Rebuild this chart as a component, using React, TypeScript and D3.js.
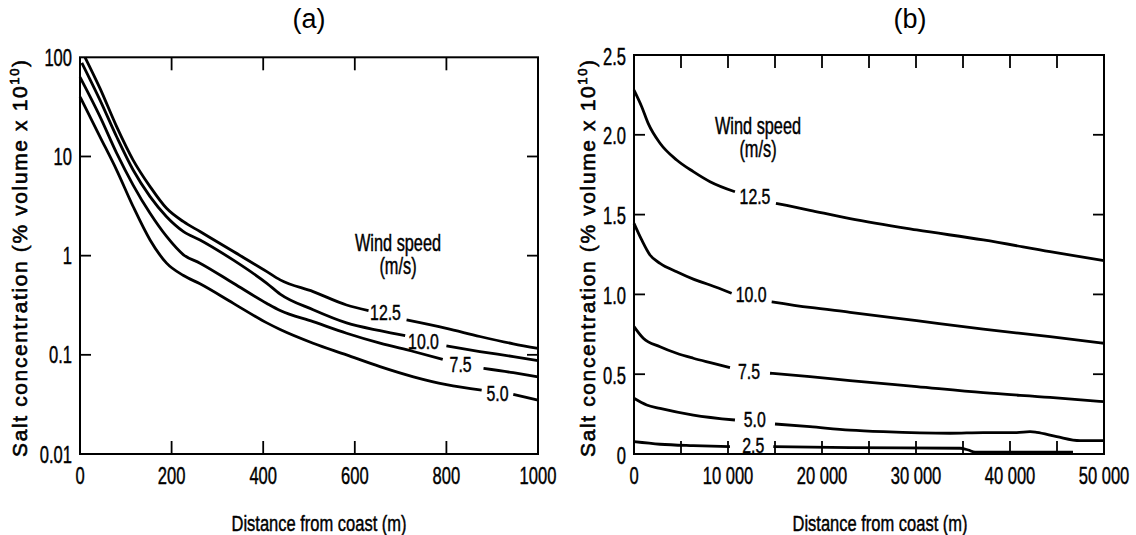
import React, { useEffect, useRef } from "react";
import * as d3 from "d3";

const W = 1136;
const H = 535;
const FONT = "'Liberation Sans', Arial, Helvetica, sans-serif";

// ---------- Panel (a): 0–1000 m, log concentration ----------
const distTicksA = [0, 200, 400, 600, 800, 1000];
const distMinorA = [200, 400, 600, 800];
const concTicksA = [0.01, 0.1, 1, 10, 100];
const concTickLabelsA = ["0.01", "0.1", "1", "10", "100"];
const concInnerA = [0.1, 1, 10];

const a125: [number, number][] = [
  [11, 100], [43.7, 48.6], [80, 20], [116, 9.2], [153, 4.97], [189, 3.0], [226, 2.2],
  [262, 1.75], [335, 1.1], [408, 0.69], [437, 0.57], [509, 0.434], [582, 0.318], [630, 0.279],
  [713, 0.225], [800, 0.185], [873, 0.153], [946, 0.129], [1000, 0.116],
];
const a100: [number, number][] = [
  [4, 88], [43.7, 37], [80, 15.8], [116, 7.3], [153, 3.94], [189, 2.47], [226, 1.75],
  [262, 1.44], [335, 0.9], [408, 0.526], [437, 0.41], [509, 0.285], [582, 0.21],
  [655, 0.175], [710, 0.156], [800, 0.123], [873, 0.108], [946, 0.096], [1000, 0.0875],
];
const a75: [number, number][] = [
  [0, 63], [43.7, 25.2], [80, 10.8], [116, 5.15], [153, 2.67], [189, 1.56], [226, 1.02],
  [262, 0.84], [335, 0.527], [408, 0.33], [437, 0.28], [509, 0.216], [582, 0.165],
  [655, 0.131], [728, 0.108], [792, 0.09], [881, 0.073], [946, 0.066], [1000, 0.06],
];
const a50: [number, number][] = [
  [0, 40], [43.7, 15.8], [80, 7.3], [116, 3.13], [153, 1.44], [189, 0.84], [226, 0.63],
  [262, 0.52], [335, 0.33], [408, 0.21], [437, 0.18], [509, 0.131], [582, 0.0998],
  [655, 0.076], [728, 0.06], [800, 0.05], [877, 0.044], [946, 0.04], [1000, 0.035],
];
const windNamesA = ["12.5", "10.0", "7.5", "5.0"];
const gapsA: [number, number][] = [[630, 713], [710, 800], [792, 881], [877, 946]];
const labelPosA: [number, number][] = [[667, 0.27], [750, 0.1387], [831, 0.0796], [911.6, 0.041]];

// ---------- Panel (b): 0–50 000 m, linear concentration ----------
const distTicksB = [0, 10000, 20000, 30000, 40000, 50000];
const distTickLabelsB = ["0", "10 000", "20 000", "30 000", "40 000", "50 000"];
const distMinorB = [5000, 10000, 15000, 20000, 25000, 30000, 35000, 40000, 45000];
const concTicksB = [0, 0.5, 1.0, 1.5, 2.0, 2.5];
const concTickLabelsB = ["0", "0.5", "1.0", "1.5", "2.0", "2.5"];
const concInnerB = [0.5, 1.0, 1.5, 2.0];

const b125: [number, number][] = [
  [0, 2.28], [820, 2.176], [1520, 2.07], [2770, 1.947], [4540, 1.842], [6310, 1.769],
  [8090, 1.706], [10740, 1.643], [15100, 1.571], [18720, 1.527], [22980, 1.475],
  [30070, 1.404], [37160, 1.341], [44260, 1.268], [50000, 1.211],
];
const b100: [number, number][] = [
  [0, 1.445], [820, 1.341], [1700, 1.247], [2770, 1.195], [4540, 1.142], [6310, 1.096],
  [8090, 1.059], [10390, 1.007], [14650, 0.954], [18720, 0.918], [22980, 0.888],
  [30070, 0.835], [37160, 0.782], [44260, 0.735], [50000, 0.694],
];
const b75: [number, number][] = [
  [0, 0.798], [990, 0.725], [2770, 0.672], [4540, 0.631], [6310, 0.6], [8440, 0.568],
  [10210, 0.541], [14470, 0.506], [18720, 0.485], [22980, 0.46], [30070, 0.422],
  [37160, 0.384], [44260, 0.355], [50000, 0.328],
];
const b50: [number, number][] = [
  [0, 0.349], [1350, 0.307], [2770, 0.286], [6310, 0.244], [10740, 0.213], [15000, 0.188],
  [18720, 0.171], [22980, 0.15], [26520, 0.14], [33620, 0.13], [37160, 0.134],
  [40710, 0.134], [42130, 0.14], [42840, 0.136], [44970, 0.109], [47450, 0.084], [50000, 0.084],
];
const b25: [number, number][] = [
  [0, 0.077], [2770, 0.061], [6310, 0.052], [10210, 0.046], [14820, 0.046], [22980, 0.04],
  [34680, 0.036], [35560, 0.025], [36280, 0.012], [37500, 0.012], [46700, 0.012],
];
const windNamesB = ["12.5", "10.0", "7.5", "5.0", "2.5"];
const gapsB: [number, number][] = [[10740, 15100], [10390, 14650], [10210, 14470], [10740, 15000], [10210, 14820]];
const labelPosB: [number, number][] = [[12870, 1.618], [12450, 1.0025], [12230, 0.521], [12840, 0.219], [12690, 0.056]];

const xTitle = "Distance from coast (m)";
const yTitleMain = "Salt concentration (% volume x 10";
const yTitleSup = "10";

type Sel = d3.Selection<SVGGElement, unknown, null, undefined>;

function ctext(g: Sel, x: number, y: number, s: string, size: number, sx: number, anchor: string) {
  g.append("text")
    .attr("transform", `translate(${x},${y}) scale(${sx},1)`)
    .attr("text-anchor", anchor)
    .attr("font-family", FONT)
    .attr("font-size", size)
    .attr("fill", "#000")
    .attr("stroke", "#000")
    .attr("stroke-width", 0.45)
    .text(s);
}

export default function App() {
  const ref = useRef<SVGSVGElement | null>(null);

  useEffect(() => {
    document.body.style.margin = "0";
    const svg = d3.select(ref.current!);
    svg.selectAll("*").remove();
    const root = svg.append("g") as unknown as Sel;

    const line = (x: any, y: any) =>
      d3.line<[number, number]>().x((d) => x(d[0])).y((d) => y(d[1])).curve(d3.curveMonotoneX);

    function drawPanel(opts: {
      x: any; y: any; left: number; right: number; top: number; bottom: number;
      xTicks: number[]; xLabels: string[]; xMinor: number[];
      yTicks: number[]; yLabels: string[]; yInner: number[]; yLabelDy: number;
      series: [number, number][][]; names: string[]; gaps: [number, number][]; labelPos: [number, number][];
      title: string; titleX: number; xTitleX: number; yTitleX: number; windX: number; windY: number;
    }) {
      const { x, y, left, right, top, bottom } = opts;
      const g = root.append("g") as unknown as Sel;

      // curves with gaps for labels
      opts.series.forEach((pts, i) => {
        const [g0, g1] = opts.gaps[i];
        const seg1 = pts.filter((d) => d[0] <= g0);
        const seg2 = pts.filter((d) => d[0] >= g1);
        [seg1, seg2].forEach((seg) => {
          g.append("path")
            .attr("d", line(x, y)(seg) as string)
            .attr("fill", "none")
            .attr("stroke", "#000")
            .attr("stroke-width", 2.8)
            .attr("stroke-linejoin", "round");
        });
        const [lx, ly] = opts.labelPos[i];
        ctext(g, x(lx), y(ly) + 7.8, opts.names[i], 22, 0.72, "middle");
      });

      // frame
      g.append("rect")
        .attr("x", left).attr("y", top)
        .attr("width", right - left).attr("height", bottom - top)
        .attr("fill", "none").attr("stroke", "#000").attr("stroke-width", 2);

      // x ticks (top & bottom, inward)
      opts.xMinor.forEach((v) => {
        const px = x(v);
        g.append("line").attr("x1", px).attr("x2", px).attr("y1", top).attr("y2", top + 13)
          .attr("stroke", "#000").attr("stroke-width", 1.8);
        g.append("line").attr("x1", px).attr("x2", px).attr("y1", bottom).attr("y2", bottom - 13)
          .attr("stroke", "#000").attr("stroke-width", 1.8);
      });
      // y ticks (left & right, inward)
      opts.yInner.forEach((v) => {
        const py = y(v);
        g.append("line").attr("x1", left).attr("x2", left + 11).attr("y1", py).attr("y2", py)
          .attr("stroke", "#000").attr("stroke-width", 1.8);
        g.append("line").attr("x1", right).attr("x2", right - 11).attr("y1", py).attr("y2", py)
          .attr("stroke", "#000").attr("stroke-width", 1.8);
      });

      // tick labels
      opts.xTicks.forEach((v, i) => ctext(g, x(v), 483.5, opts.xLabels[i], 24, 0.69, "middle"));
      opts.yTicks.forEach((v, i) => ctext(g, left - 8, y(v) + opts.yLabelDy, opts.yLabels[i], 24, 0.69, "end"));

      // axis titles
      ctext(g, opts.xTitleX, 530.5, xTitle, 22, 0.75, "middle");
      const yt = g.append("text")
        .attr("transform", `translate(${opts.yTitleX},258.5) rotate(-90)`)
        .attr("text-anchor", "middle")
        .attr("font-family", FONT)
        .attr("font-size", 21)
        .attr("textLength", 397)
        .attr("lengthAdjust", "spacing")
        .attr("fill", "#000")
        .attr("stroke", "#000")
        .attr("stroke-width", 0.6);
      yt.append("tspan").text(yTitleMain);
      yt.append("tspan").attr("font-size", 13).attr("dy", -8).text(yTitleSup);
      yt.append("tspan").attr("dy", 8).text(")");

      // panel title
      g.append("text")
        .attr("x", opts.titleX).attr("y", 28)
        .attr("text-anchor", "middle")
        .attr("font-family", FONT)
        .attr("font-size", 27)
        .text(opts.title);

      // wind speed legend text
      ctext(g, opts.windX, opts.windY, "Wind speed", 23, 0.71, "middle");
      ctext(g, opts.windX, opts.windY + 23, "(m/s)", 23, 0.71, "middle");
    }

    // Panel (a)
    const xA = d3.scaleLinear().domain([0, 1000]).range([80, 538]);
    const yA = d3.scaleLog().domain([0.01, 100]).range([454, 57.3]);
    drawPanel({
      x: xA, y: yA, left: 80, right: 538, top: 57.3, bottom: 454,
      xTicks: distTicksA, xLabels: distTicksA.map(String), xMinor: distMinorA,
      yTicks: concTicksA, yLabels: concTickLabelsA, yInner: concInnerA, yLabelDy: 8.5,
      series: [a125, a100, a75, a50], names: windNamesA, gaps: gapsA, labelPos: labelPosA,
      title: "(a)", titleX: 309, xTitleX: 319, yTitleX: 26.5, windX: 398, windY: 251,
    });

    // Panel (b)
    const xB = d3.scaleLinear().domain([0, 50000]).range([634, 1104]);
    const yB = d3.scaleLinear().domain([0, 2.5]).range([454, 55]);
    drawPanel({
      x: xB, y: yB, left: 634, right: 1104, top: 55, bottom: 454,
      xTicks: distTicksB, xLabels: distTickLabelsB, xMinor: distMinorB,
      yTicks: concTicksB, yLabels: concTickLabelsB, yInner: concInnerB, yLabelDy: 9.5,
      series: [b125, b100, b75, b50, b25], names: windNamesB, gaps: gapsB, labelPos: labelPosB,
      title: "(b)", titleX: 910, xTitleX: 880, yTitleX: 594.5, windX: 758, windY: 134,
    });
  }, []);

  return (
    <svg
      ref={ref}
      width={W}
      height={H}
      viewBox={`0 0 ${W} ${H}`}
      style={{ display: "block", background: "#fff" }}
    />
  );
}
